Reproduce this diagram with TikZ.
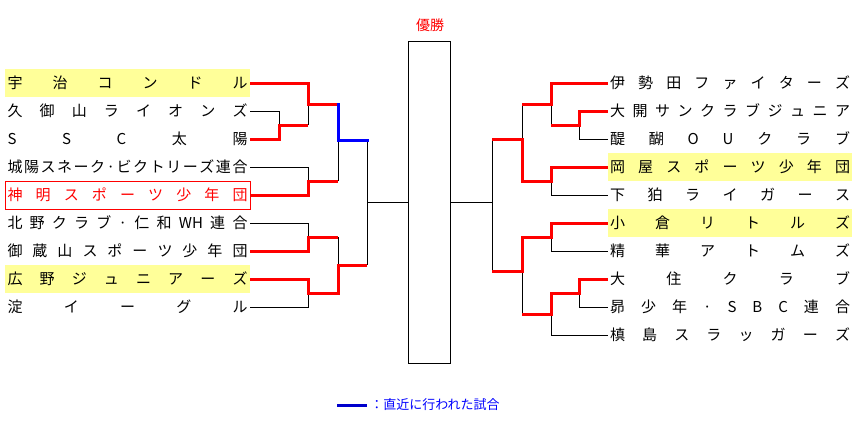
\documentclass[tikz,border=0pt]{standalone}
\usepackage{fontspec}
\setmainfont{Noto Sans CJK JP}
\definecolor{hl}{HTML}{FFFF99}
\definecolor{legblue}{HTML}{0000CC}
\newcommand\gp{\hfill}
\tikzset{
  team/.style={minimum width=183.75pt, minimum height=21pt, inner xsep=1.875pt, inner ysep=0pt, font=\fontsize{11.25pt}{12pt}\selectfont},
  rteam/.style={team, minimum width=183pt, inner xsep=1.5pt},
  hi/.style={fill=hl},
  lose/.style={draw=black, line width=0.75pt},
  win/.style={draw=red, line width=2.25pt},
  recent/.style={draw=blue, line width=2.25pt, line cap=rect},
}
\begin{document}
\begin{tikzpicture}[x=0.75pt, y=-0.75pt]
\useasboundingbox (0,0) rectangle (857,426);
% left teams
\node[team, hi] (L1) at (127.5,83) {\hbox to 180pt{宇\gp 治\gp コ\gp ン\gp ド\gp ル}};
\node[team] (L2) at (127.5,111) {\hbox to 180pt{久\gp 御\gp 山\gp ラ\gp イ\gp オ\gp ン\gp ズ}};
\node[team] (L3) at (127.5,139) {\hbox to 180pt{S\gp S\gp C\gp 太\gp 陽}};
\node[team] (L4) at (127.5,167) {\hbox to 180pt{城\gp 陽\gp ス\gp ネ\gp ー\gp ク\gp ·\gp ビ\gp ク\gp ト\gp リ\gp ー\gp ズ\gp 連\gp 合}};
\node[team, draw=red, line width=0.75pt, text=red] (L5) at (127.5,195) {\hbox to 180pt{神\gp 明\gp ス\gp ポ\gp ー\gp ツ\gp 少\gp 年\gp 団}};
\node[team] (L6) at (127.5,223) {\hbox to 180pt{北\gp 野\gp ク\gp ラ\gp ブ\gp ·\gp 仁\gp 和\gp WH\gp 連\gp 合}};
\node[team] (L7) at (127.5,251) {\hbox to 180pt{御\gp 蔵\gp 山\gp ス\gp ポ\gp ー\gp ツ\gp 少\gp 年\gp 団}};
\node[team, hi] (L8) at (127.5,279) {\hbox to 180pt{広\gp 野\gp ジ\gp ュ\gp ニ\gp ア\gp ー\gp ズ}};
\node[team] (L9) at (127.5,307) {\hbox to 180pt{淀\gp イ\gp ー\gp グ\gp ル}};
% right teams
\node[rteam] (R1) at (730,83) {\hbox to 180pt{伊\gp 勢\gp 田\gp フ\gp ァ\gp イ\gp タ\gp ー\gp ズ}};
\node[rteam] (R2) at (730,111) {\hbox to 180pt{大\gp 開\gp サ\gp ン\gp ク\gp ラ\gp ブ\gp ジ\gp ュ\gp ニ\gp ア}};
\node[rteam] (R3) at (730,139) {\hbox to 180pt{醍\gp 醐\gp O\gp U\gp ク\gp ラ\gp ブ}};
\node[rteam, hi] (R4) at (730,167) {\hbox to 180pt{岡\gp 屋\gp ス\gp ポ\gp ー\gp ツ\gp 少\gp 年\gp 団}};
\node[rteam] (R5) at (730,195) {\hbox to 180pt{下\gp 狛\gp ラ\gp イ\gp ガ\gp ー\gp ス}};
\node[rteam, hi] (R6) at (730,223) {\hbox to 180pt{小\gp 倉\gp リ\gp ト\gp ル\gp ズ}};
\node[rteam] (R7) at (730,251) {\hbox to 180pt{精\gp 華\gp ア\gp ト\gp ム\gp ズ}};
\node[rteam] (R8) at (730,279) {\hbox to 180pt{大\gp 住\gp ク\gp ラ\gp ブ}};
\node[rteam] (R9) at (730,307) {\hbox to 180pt{昴\gp 少\gp 年\gp ·\gp S\gp B\gp C\gp 連\gp 合}};
\node[rteam] (R10) at (730,335) {\hbox to 180pt{槙\gp 島\gp ス\gp ラ\gp ッ\gp ガ\gp ー\gp ズ}};
% final box and title
\node[draw, line width=0.75pt, minimum width=31.5pt, minimum height=241.5pt, inner sep=0pt] (F) at (429,202.5) {};
\node[text=red, font=\fontsize{10.5pt}{12pt}\selectfont, inner sep=0pt] (W) at (430,25) {優勝};
% left junctions
\coordinate (a23) at (279,125);
\coordinate (a1) at (308,104);
\coordinate (a45) at (308,181);
\coordinate (b1) at (338,140);
\coordinate (a67) at (308,237);
\coordinate (a89) at (308,293);
\coordinate (b2) at (338,265);
\coordinate (cL) at (367,202);
% right junctions
\coordinate (r23) at (579,125);
\coordinate (r1) at (551,104);
\coordinate (r45) at (551,181);
\coordinate (s1) at (522,139);
\coordinate (r67) at (551,237);
\coordinate (r89) at (579,293);
\coordinate (r810) at (551,314);
\coordinate (s2) at (522,271);
\coordinate (cR) at (492,202);
% left black lines
\draw[lose] (L2.east) -| (a23);
\draw[lose] (a23 -| a1) -- (a1);
\draw[lose] (L4.east) -| (a45);
\draw[lose] (a45 -| b1) -- (b1);
\draw[lose] (L6.east) -| (a67);
\draw[lose] (L9.east) -| (a89);
\draw[lose] (a67 -| b2) -- (b2);
\draw[lose] (b1 -| cL) -- (b2 -| cL);
\draw[lose] (cL) -- (cL -| F.west);
% right black lines
\draw[lose] (R3.west) -| (r23);
\draw[lose] (r23 -| r1) -- (r1);
\draw[lose] (R5.west) -| (r45);
\draw[lose] (r1 -| s1) -- (s1);
\draw[lose] (R7.west) -| (r67);
\draw[lose] (R9.west) -| (r89);
\draw[lose] (R10.west) -| (r810);
\draw[lose] (r810 -| s2) -- (s2);
\draw[lose] (s1 -| cR) -- (s2 -| cR);
\draw[lose] (cR) -- (cR -| F.east);
% left winners
\draw[win] (L3.east) -| (a23) -- (a23 -| a1);
\draw[win] (L1.east) -| (a1) -- (a1 -| b1);
\draw[recent] (a1 -| b1) -- (b1) -- (b1 -| cL);
\draw[win] (L5.east) -| (a45) -- (a45 -| b1);
\draw[win] (L7.east) -| (a67) -- (a67 -| b2);
\draw[win] (L8.east) -| (a89) -- (a89 -| b2) -- (b2) -- (b2 -| cL);
% right winners
\draw[win] (R2.west) -| (r23) -- (r23 -| r1);
\draw[win] (R1.west) -| (r1) -- (r1 -| s1);
\draw[win] (R4.west) -| (r45) -- (r45 -| s1) -- (s1) -- (s1 -| cR);
\draw[win] (R6.west) -| (r67) -- (r67 -| s2) -- (s2) -- (s2 -| cR);
\draw[win] (R8.west) -| (r89) -- (r89 -| r810) -- (r810) -- (r810 -| s2);
% legend
\coordinate (lg1) at (337,405);
\coordinate (lg2) at (367,405);
\draw[line width=2.25pt, legblue] (lg1) -- (lg2);
\node[anchor=west, text=blue, font=\fontsize{9.75pt}{11pt}\selectfont, inner sep=0pt] (leg) at (370,405) {：直近に行われた試合};
\end{tikzpicture}
\end{document}
